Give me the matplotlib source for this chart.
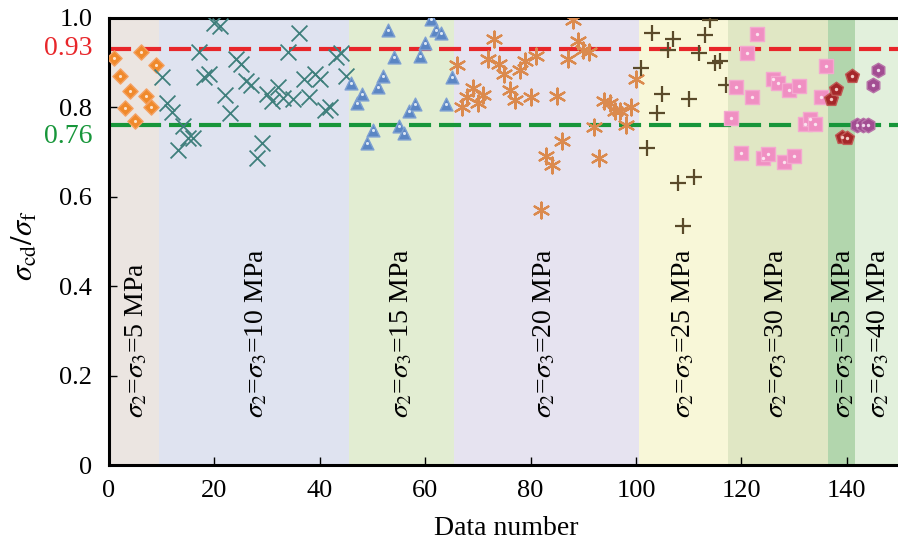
import numpy as np
import matplotlib
matplotlib.use("Agg")
import matplotlib.pyplot as plt
import matplotlib.transforms as mtransforms

plt.rcParams['font.family'] = ['Liberation Serif', 'DejaVu Serif']
plt.rcParams['mathtext.fontset'] = 'stix'

# data, one group per confining pressure
n_5 = list(range(1, 10))
r_5 = [0.910, 0.870, 0.798, 0.836, 0.769, 0.922, 0.824, 0.799, 0.895]

n_10 = list(range(10, 46))
r_10 = [0.867, 0.808, 0.789, 0.704, 0.758, 0.730, 0.730, 0.923, 0.867, 0.873,
        0.987, 0.981, 0.826, 0.787, 0.908, 0.897, 0.858, 0.849, 0.685, 0.719,
        0.830, 0.814, 0.845, 0.821, 0.923, 0.819, 0.965, 0.863, 0.823, 0.873,
        0.863, 0.793, 0.801, 0.912, 0.921, 0.870]

n_15 = list(range(46, 66))
r_15 = [0.853, 0.808, 0.830, 0.719, 0.749, 0.845, 0.870, 0.971, 0.912, 0.758,
        0.743, 0.791, 0.806, 0.913, 0.942, 0.997, 0.971, 0.966, 0.806, 0.868]

n_20 = list(range(66, 101))
r_20 = [0.893, 0.801, 0.823, 0.843, 0.808, 0.826, 0.908, 0.952, 0.897, 0.873,
        0.838, 0.816, 0.882, 0.902, 0.823, 0.913, 0.569, 0.691, 0.671, 0.824,
        0.724, 0.908, 0.995, 0.947, 0.928, 0.922, 0.756, 0.686, 0.814, 0.810,
        0.791, 0.791, 0.759, 0.801, 0.862]

n_25 = list(range(101, 118))
r_25 = [0.888, 0.708, 0.965, 0.787, 0.830, 0.927, 0.951, 0.630, 0.533, 0.819,
        0.643, 0.921, 0.960, 0.995, 0.899, 0.902, 0.850]

n_30 = list(range(118, 137))
r_30 = [0.776, 0.844, 0.697, 0.921, 0.822, 0.964, 0.686, 0.694, 0.863, 0.853,
        0.678, 0.837, 0.690, 0.848, 0.761, 0.774, 0.761, 0.822, 0.891]

n_35 = list(range(137, 142))
r_35 = [0.819, 0.841, 0.734, 0.730, 0.869]

n_40 = list(range(142, 147))
r_40 = [0.760, 0.760, 0.760, 0.850, 0.882]

pressures = [5, 10, 15, 20, 25, 30, 35, 40]
bounds = [0, 9.5, 45.5, 65.5, 100.5, 117.5, 136.5, 141.5, 150]
bg_colors = ['#ebe5e1', '#dfe3f0', '#e2edd2', '#e6e3f0',
             '#f8f7d8', '#e0e7c4', '#b2d6ad', '#e2f0dc']
label_x = [5.2, 28, 55.5, 82.7, 109, 126.7, 139.3, 146]

upper = 0.93
lower = 0.76

fig = plt.figure(figsize=(8.98, 5.44), dpi=100)
ax = fig.add_axes([0.1214, 0.1452, 0.8786, 0.8226])

for i in range(len(pressures)):
    ax.axvspan(bounds[i], bounds[i + 1], color=bg_colors[i], lw=0, zorder=0)
    ax.text(label_x[i], 0.105,
            r'$\sigma_2$=$\sigma_3$=%d MPa' % pressures[i],
            rotation=90, ha='center', va='bottom', fontsize=20, zorder=2)

ax.axhline(upper, color='#e8262a', lw=3, dashes=(5.3, 1.9), zorder=1)
ax.axhline(lower, color='#17963a', lw=3, dashes=(5.3, 1.9), zorder=1)

# filled markers with a light centre, line markers plain
ax.scatter(n_5, r_5, marker='D', s=60, c='#f08a2c', edgecolors='#f5a060', lw=1, zorder=3)
ax.scatter(n_5, r_5, marker='o', s=5, c='#fde3cc', lw=0, zorder=4)
ax.scatter(n_10, r_10, marker='x', s=130, c='#3f7f7c', lw=1.3, zorder=3)
ax.scatter(n_15, r_15, marker='^', s=85, c='#5b86c4', edgecolors='#7da0d2', lw=1, zorder=3)
ax.scatter(n_15, r_15, marker='o', s=5, c='#dbe6f5', lw=0, zorder=4)
ax.scatter(n_20, r_20, marker=(6, 2, 0), s=130, c='#db8a4e', lw=1.6, zorder=3)
ax.scatter(n_25, r_25, marker='+', s=120, c='#5a4a2a', lw=1.6, zorder=3)
ax.scatter(n_30, r_30, marker='s', s=90, c='#f08fc2', edgecolors='#f4a8cf', lw=1, zorder=3)
ax.scatter(n_30, r_30, marker='o', s=6, c='#fbe3ef', lw=0, zorder=4)
ax.scatter(n_35, r_35, marker='p', s=110, c='#a5282a', edgecolors='#c05a55', lw=1, zorder=3)
ax.scatter(n_35, r_35, marker='o', s=6, c='#f2c9c4', lw=0, zorder=4)
ax.scatter(n_40, r_40, marker='h', s=110, c='#a24d92', edgecolors='#b874a9', lw=1, zorder=3)
ax.scatter(n_40, r_40, marker='o', s=6, c='#efd7ea', lw=0, zorder=4)

ax.set_xlim(0, 149.7)
ax.set_ylim(0, 1.0)
ax.set_xticks([0, 20, 40, 60, 80, 100, 120, 140])
ax.set_yticks([0, 0.2, 0.4, 0.6, 0.8, 1.0])
ax.set_yticklabels(['0', '0.2', '0.4', '0.6', '0.8', '1.0'])
ax.tick_params(direction='in', length=6, width=1, labelsize=19)
ax.tick_params(axis='x', pad=11)
ax.tick_params(axis='y', pad=12)

trans = mtransforms.blended_transform_factory(ax.transAxes, ax.transData)
ax.text(-0.0215, upper, '0.93', transform=trans, ha='right', va='center',
        fontsize=20, color='#e8262a')
ax.text(-0.0215, 0.735, '0.76', transform=trans, ha='right', va='center',
        fontsize=20, color='#17963a')

ax.set_xlabel('Data number', fontsize=20)
ax.xaxis.set_label_coords(0.504, -0.113)
ax.set_ylabel(r'$\sigma_{\rm cd}/\sigma_{\rm f}$', fontsize=22)
ax.yaxis.set_label_coords(-0.088, 0.49)

for side in ['left', 'bottom', 'top']:
    ax.spines[side].set_linewidth(2.2)
ax.spines['right'].set_visible(False)

fig.savefig('out.png', dpi=100)
